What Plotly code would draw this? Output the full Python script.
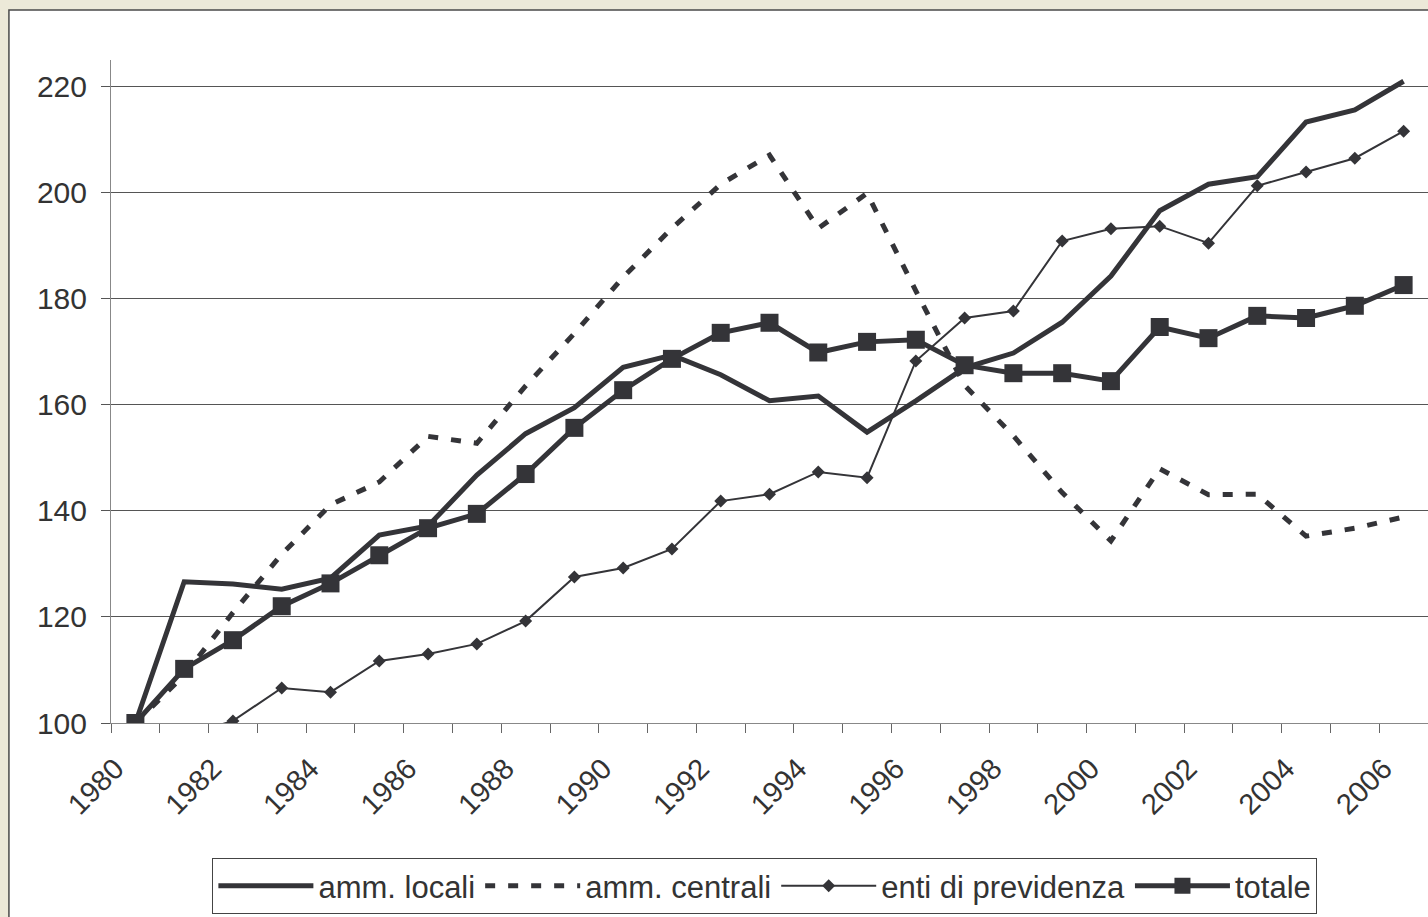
import plotly.graph_objects as go

# Index numbers, 1980 = 100
years = list(range(1980, 2007))

amm_locali = [100, 126.6, 126.2, 125.2, 127.3, 135.4, 137.1, 146.7, 154.5, 159.4,
              167.0, 169.3, 165.6, 160.7, 161.6, 154.8, 160.7, 166.9, 169.7, 175.5,
              184.2, 196.5, 201.5, 202.9, 213.2, 215.5, 220.9]

amm_centrali = [100, 109.0, 120.8, 131.8, 141.1, 145.4, 154.0, 152.7, 163.5, 173.4,
                184.0, 193.2, 201.5, 207.0, 193.2, 199.8, 181.4, 163.6, 154.1, 143.4,
                134.3, 147.9, 143.0, 143.1, 135.2, 136.7, 138.8]

enti_previdenza = [100, 97.6, 100.4, 106.6, 105.8, 111.7, 113.0, 114.9, 119.2, 127.5,
                   129.2, 132.8, 141.8, 143.1, 147.3, 146.2, 168.2, 176.3, 177.6, 190.8,
                   193.1, 193.6, 190.4, 201.2, 203.8, 206.4, 211.5]

totale = [100, 110.2, 115.6, 122.0, 126.3, 131.6, 136.7, 139.4, 146.9, 155.6,
          162.7, 168.6, 173.5, 175.4, 169.8, 171.8, 172.2, 167.4, 165.9, 165.9,
          164.4, 174.6, 172.5, 176.7, 176.3, 178.6, 182.5]

y_ticks = [100, 120, 140, 160, 180, 200, 220]
x_labels = list(range(1980, 2007, 2))

INK = "#343438"
FONT = "Liberation Sans, Arial, sans-serif"

fig = go.Figure()

fig.add_trace(go.Scatter(
    x=years, y=amm_locali, name="amm. locali", mode="lines",
    line=dict(color=INK, width=5),
))
fig.add_trace(go.Scatter(
    x=years, y=amm_centrali, name="amm. centrali", mode="lines",
    line=dict(color=INK, width=5, dash="10px,13px"),
))
fig.add_trace(go.Scatter(
    x=years, y=enti_previdenza, name="enti di previdenza", mode="lines+markers",
    line=dict(color=INK, width=2),
    marker=dict(symbol="diamond", size=10, color=INK),
))
fig.add_trace(go.Scatter(
    x=years, y=totale, name="totale", mode="lines+markers",
    line=dict(color=INK, width=5),
    marker=dict(symbol="square", size=18, color=INK),
))

# White chart panel with a dark frame on the beige page
fig.add_shape(
    type="rect", xref="paper", yref="paper", layer="below",
    x0=-0.0775, x1=1.2, y0=-0.6, y1=1.0754,
    fillcolor="white", line=dict(color="#4a4a4a", width=1.5),
)

fig.update_layout(
    width=1428, height=917,
    margin=dict(l=111, r=0, t=60, b=194),
    paper_bgcolor="#ECE9D8",
    plot_bgcolor="rgba(0,0,0,0)",
    font=dict(family=FONT, size=30, color="#333333"),
    showlegend=True,
    legend=dict(
        orientation="h", x=0.4965, xanchor="center", y=-0.2036, yanchor="top",
        bgcolor="white", bordercolor="#444444", borderwidth=1,
        font=dict(family=FONT, size=31, color="#333333"),
        itemwidth=95, tracegroupgap=0,
    ),
    xaxis=dict(
        range=[1979.5, 2006.5],
        tickmode="array", tickvals=x_labels, ticktext=[str(v) for v in x_labels],
        tickangle=-45, ticks="", showgrid=False, zeroline=False,
        showline=True, linecolor="#888888", linewidth=1,
        tickfont=dict(family=FONT, size=29, color="#333333"),
        ticklabelstandoff=16, ticklabelshift=-20,
        minor=dict(tick0=1979.5, dtick=1, ticks="outside", ticklen=9,
                   tickcolor="#666666", tickwidth=1, showgrid=False),
    ),
    yaxis=dict(
        range=[100, 224.9],
        tickmode="array", tickvals=y_ticks,
        ticks="outside", ticklen=9, tickcolor="#555555", tickwidth=1,
        showgrid=True, gridcolor="#555555", gridwidth=1,
        zeroline=False, showline=True, linecolor="#888888", linewidth=1,
        tickfont=dict(family=FONT, size=30, color="#333333"),
        ticklabelstandoff=8,
    ),
)

fig.write_html("out.html")
